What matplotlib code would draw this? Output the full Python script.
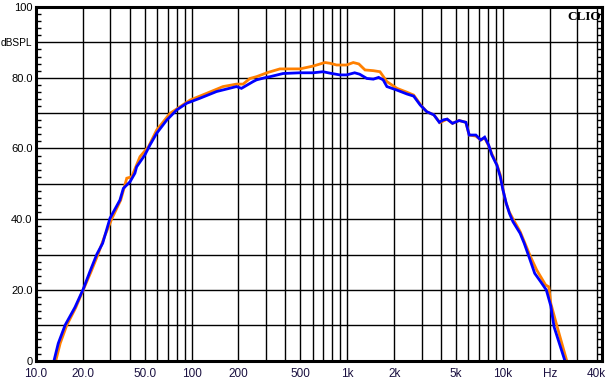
import matplotlib
matplotlib.use("Agg")
import matplotlib.pyplot as plt
from matplotlib.ticker import FixedLocator, FixedFormatter, NullFormatter
import numpy as np

# Blue curve
blue_f = [13.05, 13.9, 15.4, 17.8, 20.1, 22.2, 24.6, 26.8, 29.9, 34.6, 36.4, 40.2, 43.2, 44.3,
          50.1, 54, 59.6, 69.1, 80.2, 93.1, 113, 144.6, 194, 209, 248, 261, 302, 319, 387,
          496, 603, 698, 773, 896, 990, 1115, 1200, 1335, 1470, 1590, 1700, 1797, 2085,
          2418, 2670, 2940, 3240, 3600, 3900, 4150, 4380, 4740, 5230, 5780, 6070, 6700,
          7200, 7630, 8090, 8480, 9140, 9620, 10000, 10500, 11000, 11600, 12900, 13700,
          14700, 16000, 17500, 19000, 20300, 21300, 25000]
blue_db = [0, 4.9, 10.1, 15.1, 20.2, 25.2, 30.1, 33.2, 40.3, 45.4, 48.7, 50.6, 53, 54.8,
           58.2, 61, 64.3, 68.0, 70.9, 72.8, 74.2, 76.1, 77.5, 77.0, 78.9, 79.4, 80.1, 80.3, 81.2,
           81.4, 81.4, 81.7, 81.3, 80.8, 80.8, 81.4, 81.0, 79.8, 79.6, 80.1, 79.4, 77.5, 76.5,
           75.4, 74.8, 72.3, 70.4, 69.5, 67.4, 68.1, 68.3, 67.1, 67.9, 67.4, 63.8, 63.8,
           62.4, 63.2, 61.0, 58.2, 55.3, 52.0, 48.3, 44.5, 41.7, 39.3, 36.0, 33.2,
           29.4, 24.7, 22.3, 20.0, 15.5, 9.6, 0]

# Orange curve
orange_f = [13.4, 14.3, 15.75, 18.0, 20.1, 22.5, 25.0, 27.5, 30.8, 35, 38.3, 41.2, 46.6, 52.8,
            59.6, 72.5, 84.2, 97.8, 125, 159, 194, 214, 237, 261, 309, 369, 496, 603, 718,
            773, 853, 990, 1092, 1186, 1300, 1470, 1622, 1797, 2085, 2418, 2670, 3000, 3240,
            3600, 3940, 4380, 4740, 5230, 5780, 6070, 6700, 7200, 7630, 8090, 8480, 9140,
            9620, 10000, 10400, 11000, 11700, 12900, 14000, 15000, 16500, 18800, 19700,
            20300, 22600, 25700]
orange_db = [0, 4.9, 10, 15, 20, 25, 30, 35, 40.3, 45.4, 51.6, 52.0, 57.7, 60.5,
             65.2, 69.9, 71.8, 73.7, 75.6, 77.5, 78.2, 78.2, 79.8, 80.3, 81.5, 82.5, 82.5, 83.3, 84.3,
             84.1, 83.6, 83.6, 84.3, 83.9, 82.2, 82.0, 81.7, 78.9, 77.0, 75.9, 75.1, 72.0, 70.4,
             69.5, 67.3, 68.3, 67.1, 67.9, 67.4, 63.8, 63.5, 62.4, 63.0, 60.8, 58.5, 55.5,
             52.5, 48.5, 45.0, 42.0, 39.8, 36.5, 32.7, 29.5, 25.6, 21.4, 20.9,
             16.2, 8.7, 0]

x_tick_vals = [10, 20, 50, 100, 200, 500, 1000, 2000, 5000, 10000, 20000, 40000]
x_tick_labels = ["10.0", "20.0", "50.0", "100", "200", "500", "1k", "2k", "5k", "10k", "Hz", "40k"]
y_tick_vals = [0, 10, 20, 30, 40, 50, 60, 70, 80, 90, 100]
y_tick_labels = ["0", "", "20.0", "", "40.0", "", "60.0", "", "80.0", "dBSPL", "100"]

W, H = 608, 383
fig = plt.figure(figsize=(W / 100, H / 100), dpi=100)
fig.patch.set_facecolor("white")
ax = fig.add_axes([36 / W, (H - 360.7) / H, (602 - 36) / W, (360.7 - 7) / H])

ax.set_xscale("log")
ax.set_xlim(10, 43300)
ax.set_ylim(0, 100)

# grid lines
grid_x = [m * 10 ** e for e in range(1, 5) for m in range(1, 10) if m * 10 ** e <= 40000]
for gx in grid_x:
    ax.axvline(gx, color="black", lw=1.0, zorder=1)
for gy in range(10, 100, 10):
    ax.axhline(gy, color="black", lw=1.0, zorder=1)

ax.plot(orange_f, orange_db, color="#FF8000", lw=2.0, zorder=3, solid_joinstyle="miter")
ax.plot(blue_f, blue_db, color="#0000FF", lw=2.0, zorder=4, solid_joinstyle="miter")

ax.xaxis.set_major_locator(FixedLocator(x_tick_vals))
ax.xaxis.set_major_formatter(FixedFormatter(x_tick_labels))
ax.xaxis.set_minor_locator(FixedLocator([]))
ax.xaxis.set_minor_formatter(NullFormatter())
ax.tick_params(axis="x", which="major", length=0, pad=5, labelsize=8.5, labelcolor="#1a1040")

ax.yaxis.set_major_locator(FixedLocator(y_tick_vals))
ax.yaxis.set_major_formatter(FixedFormatter(y_tick_labels))
ax.yaxis.set_minor_locator(FixedLocator(list(range(0, 101, 2))))
ax.tick_params(axis="y", which="major", length=0, pad=2.5, labelsize=8, labelcolor="black")
ax.tick_params(axis="y", which="minor", direction="in", length=3.5, width=1,
               left=True, right=True, color="black")

for lab in ax.get_xticklabels() + ax.get_yticklabels():
    lab.set_fontfamily("Liberation Sans")
for lab in ax.get_yticklabels():
    if lab.get_text() == "dBSPL":
        lab.set_fontsize(7.3)

for s in ax.spines.values():
    s.set_linewidth(2.2)
    s.set_color("black")
    s.set_zorder(5)

ax.text(0.998, 0.99, "CLIO", transform=ax.transAxes, ha="right", va="top",
        fontsize=9.5, fontweight="bold", family="Liberation Serif", color="black", zorder=6)

fig.savefig("out.png", dpi=100, facecolor="white")
